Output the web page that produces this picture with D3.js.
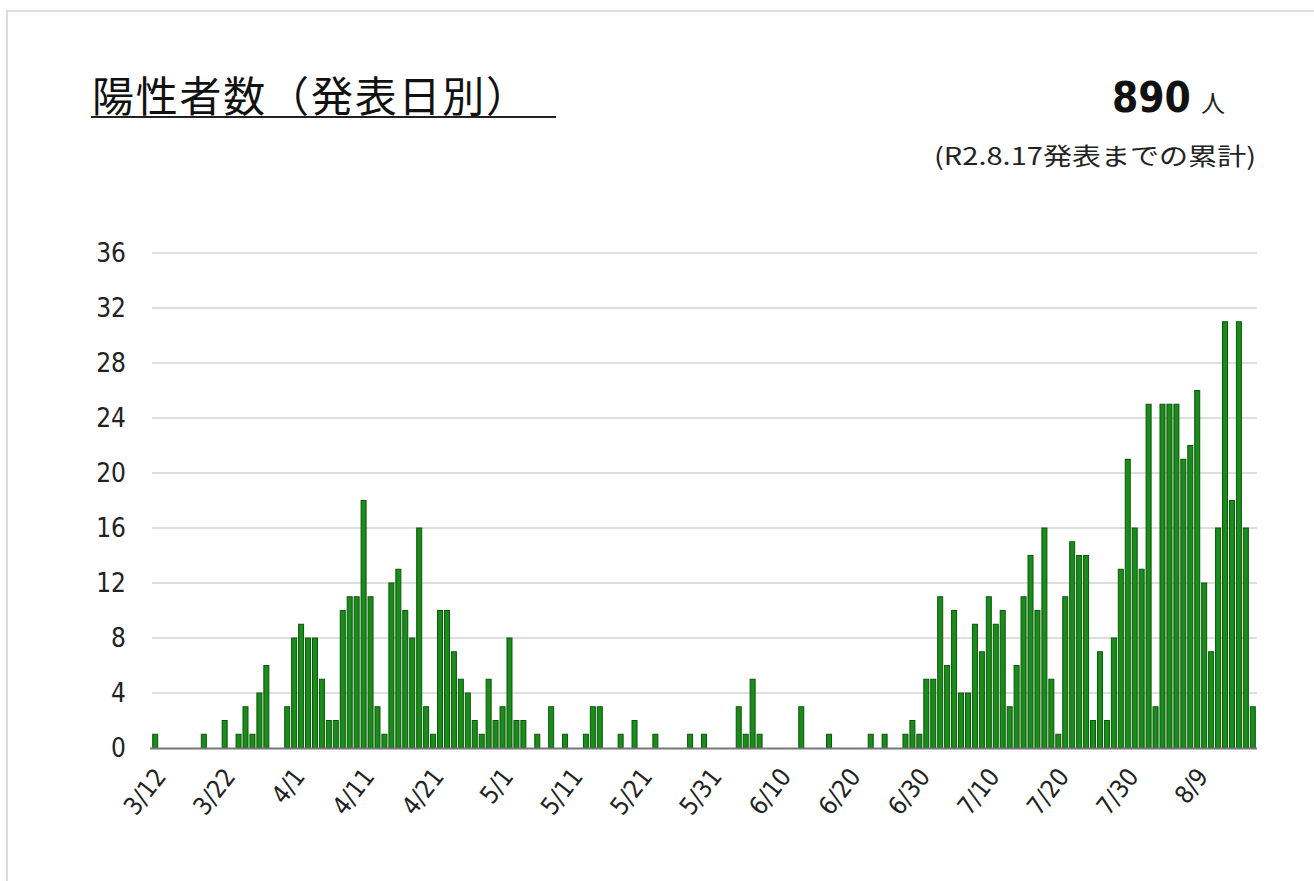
<!DOCTYPE html>
<html lang="ja">
<head>
  <meta charset="UTF-8">
  <title>陽性者数（発表日別）</title>
  <script src="https://cdn.jsdelivr.net/npm/d3@7"></script>
  <style>
    html, body {
      margin: 0;
      padding: 0;
      background: #fff;
    }
    svg {
      display: block;
    }
    .num {
      font-family: "Liberation Sans Narrow", "DejaVu Sans Condensed", sans-serif;
    }
    .jp {
      font-family: "Noto Sans CJK JP", sans-serif;
    }
  </style>
</head>
<body>
<svg id="chart"></svg>
<script>
  const width = 1314, height = 881;

  // daily counts by announcement date, 3/12 .. 8/17
  const startDate = new Date(2020, 2, 12);
  const endDate = new Date(2020, 7, 17);
  const counts = [
    1, 0, 0, 0, 0, 0, 0, 1, 0, 0, 2, 0, 1, 3, 1, 4, 6, 0, 0, 3,
    8, 9, 8, 8, 5, 2, 2, 10, 11, 11, 18, 11, 3, 1, 12, 13, 10, 8, 16, 3,
    1, 10, 10, 7, 5, 4, 2, 1, 5, 2, 3, 8, 2, 2, 0, 1, 0, 3, 0, 1,
    0, 0, 1, 3, 3, 0, 0, 1, 0, 2, 0, 0, 1, 0, 0, 0, 0, 1, 0, 1,
    0, 0, 0, 0, 3, 1, 5, 1, 0, 0, 0, 0, 0, 3, 0, 0, 0, 1, 0, 0,
    0, 0, 0, 1, 0, 1, 0, 0, 1, 2, 1, 5, 5, 11, 6, 10, 4, 4, 9, 7,
    11, 9, 10, 3, 6, 11, 14, 10, 16, 5, 1, 11, 15, 14, 14, 2, 7, 2, 8, 13,
    21, 16, 13, 25, 3, 25, 25, 25, 21, 22, 26, 12, 7, 16, 31, 18, 31, 16, 3
  ];
  const tickLabels = ["3/12", "3/22", "4/1", "4/11", "4/21", "5/1", "5/11", "5/21",
    "5/31", "6/10", "6/20", "6/30", "7/10", "7/20", "7/30", "8/9"];
  const yTicks = [0, 4, 8, 12, 16, 20, 24, 28, 32, 36];

  const days = d3.timeDay.range(startDate, d3.timeDay.offset(endDate, 1));
  const fmt = d3.timeFormat("%-m/%-d");
  const data = days.map((d, i) => ({label: fmt(d), value: counts[i]}));

  const svg = d3.select('#chart')
    .attr('width', width)
    .attr('height', height);

  // frame of the page
  svg.append('path')
    .attr('d', `M7,${height} V11 H${width}`)
    .attr('fill', 'none')
    .attr('stroke', '#dcdcdc')
    .attr('stroke-width', 2);

  // header
  svg.append('text')
    .attr('class', 'jp')
    .attr('x', 92)
    .attr('y', 112)
    .attr('font-size', 42)
    .attr('fill', '#111')
    .attr('textLength', 436)
    .text('陽性者数（発表日別）');
  svg.append('line')
    .attr('x1', 91).attr('x2', 556)
    .attr('y1', 117).attr('y2', 117)
    .attr('stroke', '#222')
    .attr('stroke-width', 2);

  // total + unit in one text
  const total = svg.append('text')
    .attr('x', 1112)
    .attr('y', 112)
    .attr('fill', '#111');
  total.append('tspan')
    .attr('class', 'num')
    .attr('font-size', 42)
    .attr('font-weight', 'bold')
    .text(d3.sum(counts));
  total.append('tspan')
    .attr('class', 'jp')
    .attr('dx', 10)
    .attr('font-size', 24)
    .attr('fill', '#222')
    .text('人');

  svg.append('text')
    .attr('class', 'jp')
    .attr('x', 934)
    .attr('y', 165)
    .attr('font-size', 24)
    .attr('fill', '#222')
    .attr('textLength', 322)
    .attr('lengthAdjust', 'spacingAndGlyphs')
    .text('(R2.8.17発表までの累計)');

  // scales
  const x = d3.scaleBand()
    .domain(data.map(d => d.label))
    .range([152, 1256])
    .paddingInner(0.28)
    .paddingOuter(0.1);

  const y = d3.scaleLinear()
    .domain([0, 36])
    .range([748, 253]);

  // grid
  svg.append('g')
    .selectAll('line')
    .data(yTicks.filter(t => t > 0))
    .join('line')
    .attr('x1', 152)
    .attr('x2', 1257)
    .attr('y1', d => y(d))
    .attr('y2', d => y(d))
    .attr('stroke', '#dedede')
    .attr('stroke-width', 2);

  // y axis labels
  const yAxis = svg.append('g')
    .attr('transform', 'translate(152,0)')
    .call(d3.axisLeft(y).tickValues(yTicks).tickSize(0).tickPadding(26));
  yAxis.select('.domain').remove();
  yAxis.selectAll('text')
    .attr('class', 'num')
    .attr('font-size', 26)
    .attr('fill', '#222');

  // bars
  svg.append('g')
    .selectAll('rect')
    .data(data.filter(d => d.value > 0))
    .join('rect')
    .attr('x', d => x(d.label))
    .attr('y', d => y(d.value))
    .attr('width', x.bandwidth())
    .attr('height', d => y(0) - y(d.value))
    .attr('fill', '#1a8c1a')
    .attr('stroke', '#0b560b')
    .attr('stroke-width', 1);

  // x axis
  const xAxis = svg.append('g')
    .attr('transform', `translate(0,${y(0)})`)
    .call(d3.axisBottom(x).tickValues(tickLabels).tickSize(0).tickPadding(0));
  xAxis.select('.domain')
    .attr('d', 'M150,0.5H1257')
    .attr('stroke', '#777')
    .attr('stroke-width', 2);
  xAxis.selectAll('text')
    .attr('class', 'num')
    .attr('font-size', 25)
    .attr('fill', '#222')
    .attr('text-anchor', 'end')
    .attr('dy', 0)
    .attr('y', 0)
    .attr('transform', 'translate(12,29) rotate(-52)');
</script>
</body>
</html>
